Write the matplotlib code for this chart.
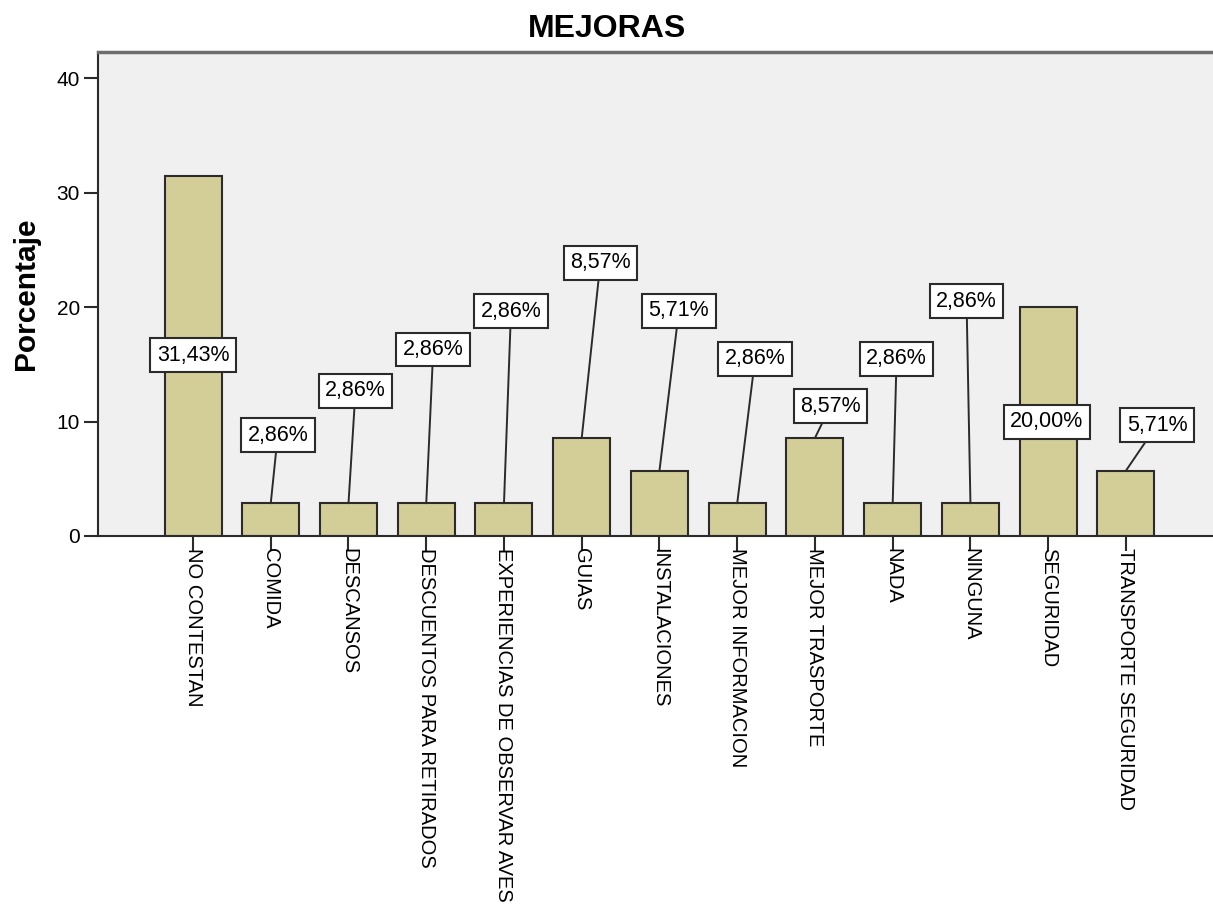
"""
Bar chart of suggested improvements (MEJORAS), percentage of respondents.
"""

import matplotlib.pyplot as plt
import numpy as np

plt.rcParams["font.family"] = ["Liberation Sans", "DejaVu Sans"]

categories = [
    "NO CONTESTAN",
    "COMIDA",
    "DESCANSOS",
    "DESCUENTOS PARA RETIRADOS",
    "EXPERIENCIAS DE OBSERVAR AVES",
    "GUIAS",
    "INSTALACIONES",
    "MEJOR INFORMACION",
    "MEJOR TRASPORTE",
    "NADA",
    "NINGUNA",
    "SEGURIDAD",
    "TRANSPORTE SEGURIDAD",
]
percentages = [31.43, 2.86, 2.86, 2.86, 2.86, 8.57, 5.71, 2.86, 8.57, 2.86, 2.86, 20.00, 5.71]
y_ticks = [0, 10, 20, 30, 40]

# label box placement: horizontal shift from the bar and height in data units
label_dx = [0.0, 0.09, 0.09, 0.09, 0.09, 0.24, 0.25, 0.23, 0.2, 0.05, -0.05, -0.02, 0.4]
label_y = [15.8, 8.8, 12.7, 16.3, 19.65, 23.9, 19.7, 15.5, 11.35, 15.5, 20.5, 10.0, 9.7]

BAR_COLOR = "#d3ce97"
EDGE = "#2b2b2b"
BG = "#f0f0f0"

fig = plt.figure(figsize=(12.13, 9.08), dpi=100)
ax = fig.add_axes([0.0808, 0.4097, 0.9192, 0.533])
ax.set_facecolor(BG)

x = np.arange(len(categories))
ax.bar(x, percentages, width=0.733, color=BAR_COLOR, edgecolor=EDGE, linewidth=1.5, zorder=2)

for i, val in enumerate(percentages):
    text = f"{val:.2f}%".replace(".", ",")
    box = dict(boxstyle="square,pad=0.3", facecolor="white", edgecolor=EDGE, linewidth=1.5)
    if label_y[i] < val:
        # label sits inside the bar, no leader line
        ax.text(x[i] + label_dx[i], label_y[i], text, ha="center", va="center",
                fontsize=15.5, bbox=box, zorder=4)
    else:
        ax.annotate(
            text,
            xy=(x[i], val),
            xytext=(x[i] + label_dx[i], label_y[i]),
            ha="center",
            va="center",
            fontsize=15.5,
            bbox=box,
            arrowprops=dict(arrowstyle="-", color=EDGE, linewidth=1.4, shrinkA=0, shrinkB=0),
            zorder=4,
        )

ax.set_xlim(-1.222, 13.12)
ax.set_ylim(0, 42.3)
ax.set_yticks(y_ticks)
ax.set_yticklabels([str(t) for t in y_ticks], fontsize=15)
ax.set_xticks(x)
ax.set_xticklabels(categories, rotation=270, ha="center", va="top", fontsize=14.5)
ax.tick_params(axis="both", length=10, width=1.5, color=EDGE, pad=3)
ax.tick_params(axis="x", length=11, pad=-2)

for side in ["left", "bottom"]:
    ax.spines[side].set_color(EDGE)
    ax.spines[side].set_linewidth(1.5)
ax.spines["top"].set_color("#6e6e6e")
ax.spines["top"].set_linewidth(2.5)
ax.spines["right"].set_visible(False)

ax.set_ylabel("Porcentaje", fontsize=21.5, fontweight="bold", labelpad=12)
fig.text(0.5, 0.968, "MEJORAS", ha="center", va="center", fontsize=23, fontweight="bold")

plt.savefig("out.png", dpi=100)
plt.close()
